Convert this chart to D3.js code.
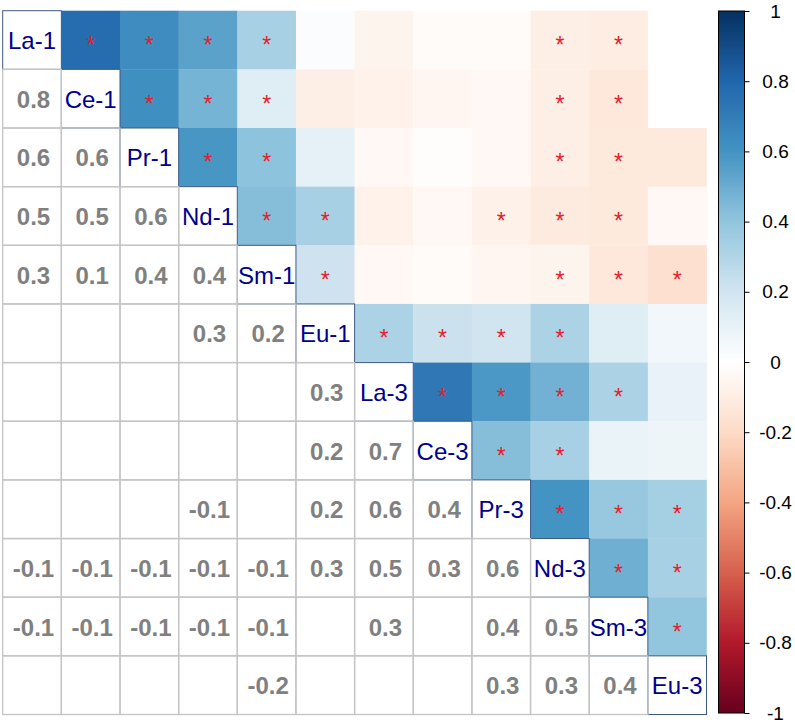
<!DOCTYPE html>
<html><head><meta charset="utf-8">
<script src="https://cdn.jsdelivr.net/npm/d3@7"></script>
<style>body{margin:0;background:#fff}svg{display:block;font-family:"Liberation Sans",Arial,sans-serif}</style>
</head><body><svg id="c" width="795" height="727"></svg>
<script>
const vars = ["La-1","Ce-1","Pr-1","Nd-1","Sm-1","Eu-1","La-3","Ce-3","Pr-3","Nd-3","Sm-3","Eu-3"];
// upper-triangle correlations, row i gives values for columns i+1..11
const corrUpper = [
  [0.77, 0.63, 0.54, 0.33, 0.02, -0.06, -0.02, -0.02, -0.09, -0.10, 0.00],
  [0.62, 0.47, 0.14, -0.09, -0.07, -0.05, -0.04, -0.09, -0.13, 0.00],
  [0.59, 0.41, 0.11, -0.04, -0.01, -0.04, -0.09, -0.12, -0.12],
  [0.43, 0.33, -0.07, -0.04, -0.08, -0.11, -0.12, -0.04],
  [0.21, -0.04, -0.02, -0.05, -0.06, -0.13, -0.17],
  [0.32, 0.22, 0.20, 0.32, 0.14, 0.06],
  [0.72, 0.58, 0.48, 0.32, 0.10],
  [0.43, 0.33, 0.09, 0.08],
  [0.60, 0.38, 0.34],
  [0.49, 0.33],
  [0.40]
];
// significance flags (1 = p < 0.05), same layout
const sigUpper = [
  [1,1,1,1,0,0,0,0,1,1,0],
  [1,1,1,0,0,0,0,1,1,0],
  [1,1,0,0,0,0,1,1,0],
  [1,1,0,0,1,1,1,0],
  [1,0,0,0,1,1,1],
  [1,1,1,1,0,0],
  [1,1,1,1,0],
  [1,1,0,0],
  [1,1,1],
  [1,1],
  [1]
];
const legendTicks = [1,0.8,0.6,0.4,0.2,0,-0.2,-0.4,-0.6,-0.8,-1];
const paletteColors = ["#67001F","#B2182B","#D6604D","#F4A582","#FDDBC7","#FFFFFF","#D1E5F0","#92C5DE","#4393C3","#2166AC","#053061"];

const n = vars.length;
const cells = [];
for (let i = 0; i < n; i++) for (let j = 0; j < n; j++) {
  if (j > i) cells.push({i, j, r: corrUpper[i][j-i-1], sig: sigUpper[i][j-i-1]});
}
const lower = cells.filter(d => d.sig).map(d => ({i: d.j, j: d.i, r: d.r}));

const svg = d3.select("#c");
const x = d3.scaleBand().domain(d3.range(n)).range([2.7, 706.5]);
const y = d3.scaleBand().domain(d3.range(n)).range([10.7, 714.5]);
const color = d3.scaleLinear().domain(d3.range(11).map(k => -1 + k*0.2)).range(paletteColors).interpolate(d3.interpolateRgb).clamp(true);

// upper coloured squares
svg.append("g").selectAll("rect").data(cells).join("rect")
  .attr("x", d => x(d.j)).attr("y", d => y(d.i))
  .attr("width", x.bandwidth()+0.3).attr("height", y.bandwidth()+0.3)
  .attr("fill", d => color(d.r));

// diagonal cells
svg.append("g").selectAll("rect").data(d3.range(n)).join("rect")
  .attr("x", k => x(k)).attr("y", k => y(k))
  .attr("width", x.bandwidth()).attr("height", y.bandwidth())
  .attr("fill", "#fff").attr("stroke", "#3d5784").attr("stroke-width", 1);

// lower grid
const lowerCells = [];
for (let i = 0; i < n; i++) for (let j = 0; j < i; j++) lowerCells.push({i, j});
svg.append("g").selectAll("rect").data(lowerCells).join("rect")
  .attr("x", d => x(d.j)).attr("y", d => y(d.i))
  .attr("width", x.bandwidth()).attr("height", y.bandwidth())
  .attr("fill", "none").attr("stroke", "#c4c4c4").attr("stroke-width", 1.3);

// stars
svg.append("g").selectAll("text").data(cells.filter(d => d.sig)).join("text")
  .attr("x", d => x(d.j) + x.bandwidth()/2)
  .attr("y", d => y(d.i) + y.bandwidth()/2 + 13)
  .attr("text-anchor", "middle").attr("font-size", 23)
  .attr("fill", "#e3202a").text("*");

// lower numbers
svg.append("g").selectAll("text").data(lower).join("text")
  .attr("x", d => x(d.j) + x.bandwidth()/2 + 1.5)
  .attr("y", d => y(d.i) + y.bandwidth()/2 + 9)
  .attr("text-anchor", "middle").attr("font-size", 24).attr("font-weight", "bold")
  .attr("fill", "#808080").text(d => d.r.toFixed(1));

// diagonal labels
svg.append("g").selectAll("text").data(vars).join("text")
  .attr("x", (d,k) => x(k) + x.bandwidth()/2)
  .attr("y", (d,k) => y(k) + y.bandwidth()/2 + 9)
  .attr("text-anchor", "middle").attr("font-size", 24)
  .attr("fill", "#00008B").text(d => d);

// colour legend
const lg = {x0: 718.5, x1: 744.5, y0: 11, y1: 713};
const ly = d3.scaleLinear().domain([1, -1]).range([lg.y0, lg.y1]);
const defs = svg.append("defs");
const grad = defs.append("linearGradient").attr("id", "g").attr("x1", 0).attr("y1", 1).attr("x2", 0).attr("y2", 0);
grad.selectAll("stop").data(paletteColors).join("stop")
  .attr("offset", (d,k) => k/10).attr("stop-color", d => d);
svg.append("rect").attr("x", lg.x0).attr("y", lg.y0).attr("width", lg.x1-lg.x0).attr("height", lg.y1-lg.y0)
  .attr("fill", "url(#g)").attr("stroke", "#000").attr("stroke-width", 1);
const ax = svg.append("g").attr("transform", `translate(${lg.x1},0)`)
  .call(d3.axisRight(ly).tickValues(legendTicks).tickSize(5).tickFormat(d => String(d)));
ax.select(".domain").remove();
ax.selectAll(".tick line").attr("stroke", "#000");
ax.selectAll(".tick text").attr("x", 31).attr("text-anchor", "middle")
  .attr("font-size", 19).attr("font-family", "Liberation Sans, Arial, sans-serif").attr("fill", "#000");
</script></body></html>
